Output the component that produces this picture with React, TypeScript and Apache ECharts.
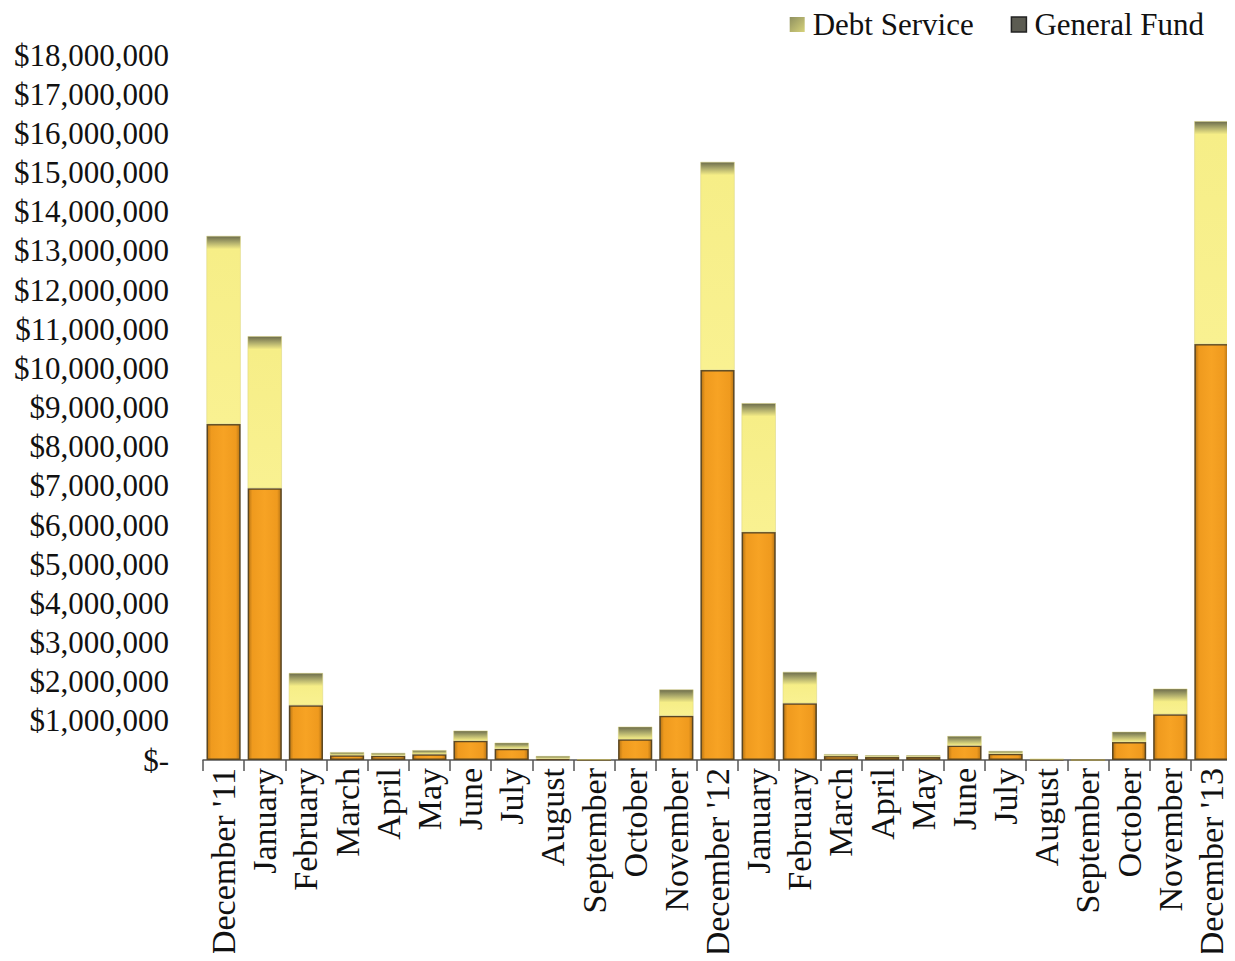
import React, { useEffect, useRef } from "react";
import * as echarts from "echarts";

const categories = [
  "December '11", "January", "February", "March", "April", "May", "June", "July", "August", "September", "October", "November",
  "December '12", "January", "February", "March", "April", "May", "June", "July", "August", "September", "October", "November",
  "December '13",
];

const generalFund = [
  8580000, 6940000, 1400000, 120000, 110000, 150000, 490000, 290000, 30000, 5000, 530000, 1130000,
  9960000, 5820000, 1450000, 100000, 80000, 80000, 370000, 160000, 15000, 0, 460000, 1170000,
  10620000,
];

const debtService = [
  4800000, 3880000, 820000, 80000, 70000, 100000, 260000, 150000, 70000, 5000, 320000, 670000,
  5310000, 3290000, 800000, 50000, 40000, 40000, 240000, 70000, 10000, 0, 260000, 650000,
  5690000,
];

const yTicks = { min: 0, max: 18000000, interval: 1000000 };

const PX_PER_MILLION = 39.17;

function debtItem(v: number) {
  const px = (v / 1e6) * PX_PER_MILLION;
  const frac = px > 0 ? Math.min(0.999, 13 / px) : 0.999;
  return {
    value: v,
    itemStyle: {
      color: new echarts.graphic.LinearGradient(0, 0, 0, 1, [
        { offset: 0, color: "#6c6c4c" },
        { offset: frac * 0.45, color: "#a9a76a" },
        { offset: frac, color: "#f6ee87" },
        { offset: 1, color: "#f9f191" },
      ]),
    },
  };
}

function fmt(v: number) {
  if (v === 0) return "$-";
  return "$" + v.toLocaleString("en-US");
}

export default function App() {
  const ref = useRef<HTMLDivElement>(null);
  useEffect(() => {
    if (!ref.current) return;
    const chart = echarts.init(ref.current, null, { renderer: "svg" });
    const font = "'Liberation Serif', 'Times New Roman', serif";
    chart.setOption({
      animation: false,
      backgroundColor: "#ffffff",
      textStyle: { fontFamily: font },
      legend: {
        top: 4,
        right: 26,
        icon: "rect",
        itemWidth: 15,
        itemHeight: 15,
        itemGap: 37,
        textStyle: { fontFamily: font, fontSize: 31, color: "#111", padding: [0, 0, 0, 3] },
        data: [
          {
            name: "Debt Service",
            itemStyle: {
              color: new echarts.graphic.LinearGradient(0, 0, 1, 1, [
                { offset: 0, color: "#8f9060" },
                { offset: 1, color: "#d6d27a" },
              ]),
              borderWidth: 0,
            },
          },
          { name: "General Fund", itemStyle: { color: "#5c5c52", borderColor: "#222", borderWidth: 1.5 } },
        ],
      },
      grid: { left: 203, right: 3, top: 55, bottom: 201, containLabel: false },
      xAxis: {
        type: "category",
        data: categories,
        axisLine: { show: true, lineStyle: { color: "#555", width: 1.5 } },
        axisTick: { show: true, alignWithLabel: false, length: 11, lineStyle: { color: "#555", width: 1.5 } },
        axisLabel: {
          rotate: 90,
          interval: 0,
          margin: 8,
          fontFamily: font,
          fontSize: 34,
          color: "#111",
        },
      },
      yAxis: {
        type: "value",
        min: yTicks.min,
        max: yTicks.max,
        interval: yTicks.interval,
        axisLine: { show: false },
        axisTick: { show: false },
        splitLine: { show: false },
        axisLabel: {
          margin: 34,
          fontFamily: font,
          fontSize: 31,
          color: "#111",
          formatter: fmt,
        },
      },
      series: [
        {
          name: "General Fund",
          type: "bar",
          stack: "total",
          barCategoryGap: "17%",
          data: generalFund,
          itemStyle: {
            color: new echarts.graphic.LinearGradient(1, 0, 0, 0, [
              { offset: 0, color: "#b87514" },
              { offset: 0.12, color: "#ef9a1e" },
              { offset: 0.5, color: "#f7a324" },
              { offset: 0.88, color: "#ef9a1e" },
              { offset: 1, color: "#b87514" },
            ]),
            borderColor: "#5a4622",
            borderWidth: 1.5,
          },
        },
        {
          name: "Debt Service",
          type: "bar",
          stack: "total",
          barCategoryGap: "17%",
          data: debtService.map(debtItem),
          itemStyle: { borderColor: "#d9d27a", borderWidth: 0.5 },
        },
      ],
    });
    return () => chart.dispose();
  }, []);
  return <div ref={ref} style={{ width: 1235, height: 961, margin: -8 }} />;
}
